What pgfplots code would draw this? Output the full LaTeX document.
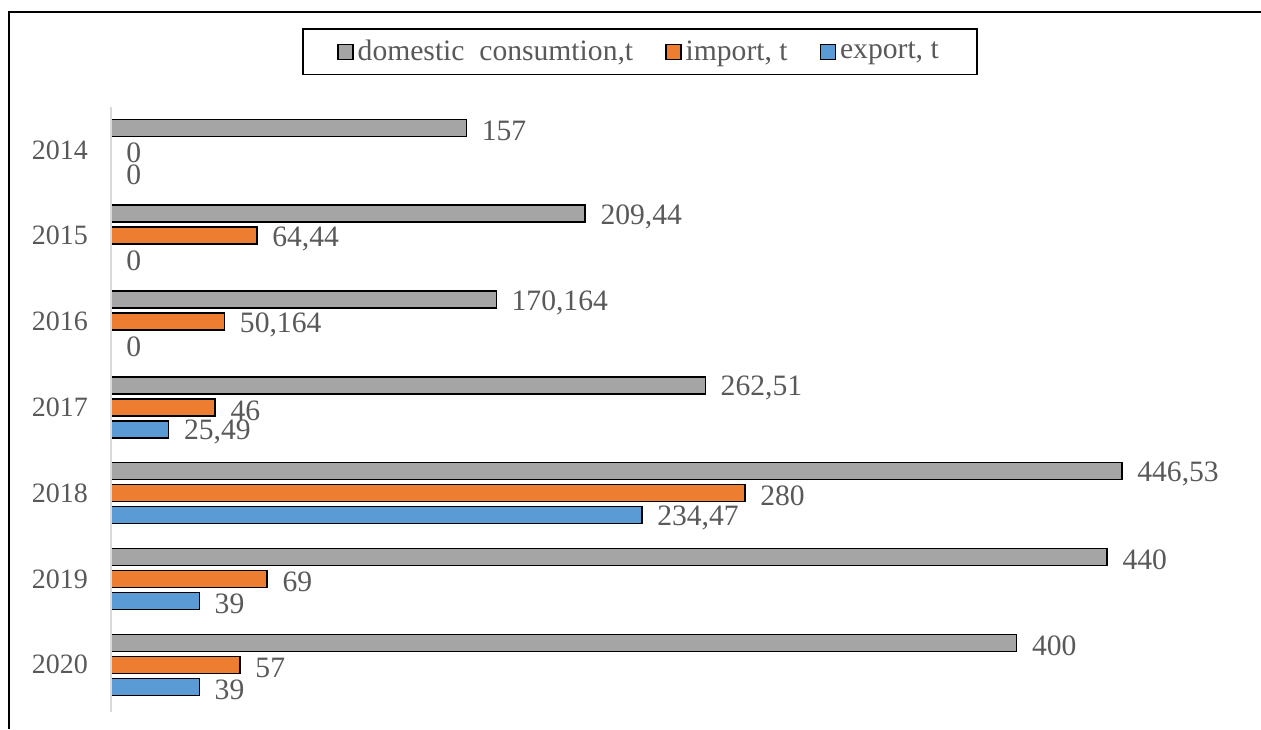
\documentclass[border=0pt]{standalone}
\usepackage{pgfplots}
\pgfplotsset{compat=1.18}
\usepackage{fontspec}
\setmainfont{Liberation Serif}
\definecolor{cgray}{HTML}{A5A5A5}
\definecolor{corange}{HTML}{ED7D31}
\definecolor{cblue}{HTML}{5B9BD5}
\definecolor{ctext}{HTML}{595959}
\definecolor{caxis}{HTML}{D9D9D9}
\begin{document}
\begin{tikzpicture}[x=1pt,y=1pt]
\begin{axis}[
  at={(55.5pt,8.5pt)}, anchor=south west,
  scale only axis, width=566pt, height=302.5pt,
  xmin=0, xmax=500,
  ymin=-0.55, ymax=6.5,
  xbar, bar width=8.5pt,
  axis on top,
  axis x line=none,
  axis y line=left,
  y axis line style={-, draw=caxis, line width=1pt},
  ytick={0,1,2,3,4,5,6},
  yticklabels={2020,2019,2018,2017,2016,2015,2014},
  major tick length=0pt,
  yticklabel style={font=\fontsize{14}{16}\selectfont, text=ctext, xshift=-8pt},
  point meta=explicit symbolic,
  nodes near coords,
  nodes near coords style={anchor=west, font=\fontsize{14.8}{16}\selectfont, text=ctext, xshift=4pt, yshift=-1.5pt},
  legend style={at={(0.4673,1.091)}, anchor=center, legend columns=3, draw=black, line width=0.75pt,
    font=\fontsize{14.8}{17}\selectfont, text=ctext, inner xsep=17pt, inner ysep=3.5pt,
    /tikz/every even column/.append style={column sep=14pt}},
  legend image code/.code={\draw[#1, line width=0.75pt, draw=black] (0pt,-3.75pt) rectangle (7.5pt,3.75pt);},
  clip=false,
]
\addplot[fill=cgray, draw=black, line width=0.75pt, bar shift=11pt] coordinates {
  (157,6)[157] (209.44,5)[209,44] (170.164,4)[170,164] (262.51,3)[262,51]
  (446.53,2)[446,53] (440,1)[440] (400,0)[400]};
\addlegendentry{domestic\ \ consumtion,t}
\addplot[fill=corange, draw=black, line width=0.75pt, bar shift=0pt] coordinates {
  (0,6)[0] (64.44,5)[64,44] (50.164,4)[50,164] (46,3)[46]
  (280,2)[280] (69,1)[69] (57,0)[57]};
\addlegendentry{import, t}
\addplot[fill=cblue, draw=black, line width=0.75pt, bar shift=-11pt] coordinates {
  (0,6)[0] (0,5)[0] (0,4)[0] (25.49,3)[25,49]
  (234.47,2)[234,47] (39,1)[39] (39,0)[39]};
\addlegendentry{export, t}
\end{axis}
\draw[line width=1pt] (4.5pt,0pt) -- (4.5pt,358.5pt) -- (630.5pt,358.5pt);
\pgfresetboundingbox
\useasboundingbox (0pt,0pt) rectangle (630.5pt,364.5pt);
\end{tikzpicture}
\end{document}
